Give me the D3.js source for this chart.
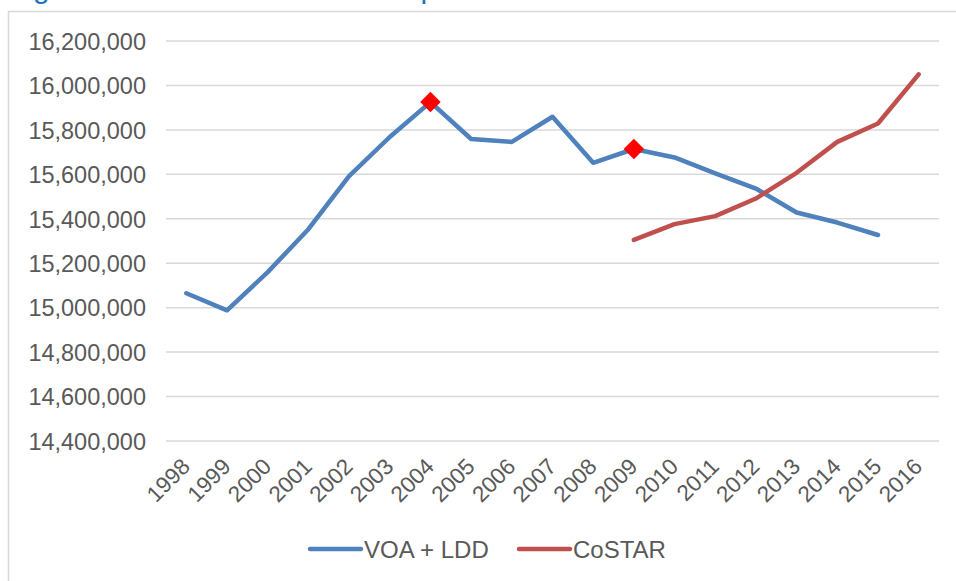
<!DOCTYPE html>
<html>
<head>
<meta charset="utf-8">
<script src="https://cdn.jsdelivr.net/npm/d3@7"></script>
<style>
  html, body { margin: 0; padding: 0; background: #fff; }
  svg { display: block; font-family: "Liberation Sans", Arial, sans-serif; }
</style>
</head>
<body>
<svg id="chart" width="956" height="581"></svg>
<script>
// Office floorspace estimates by source (sq m)
const years = ["1998","1999","2000","2001","2002","2003","2004","2005","2006",
               "2007","2008","2009","2010","2011","2012","2013","2014","2015","2016"];
const voaLdd = [15065000, 14988000, 15160000, 15353000, 15592000, 15768000, 15925000,
                15759000, 15746000, 15859000, 15652000, 15714000, 15676000, 15604000,
                15536000, 15428000, 15383000, 15327000, null];
const costar = [null, null, null, null, null, null, null, null, null, null, null,
                15305000, 15376000, 15412000, 15491000, 15607000, 15746000, 15829000, 16050000];
const highlightYears = ["2004", "2009"];
const yTicks = [14400000, 14600000, 14800000, 15000000, 15200000, 15400000,
                15600000, 15800000, 16000000, 16200000];
const seriesNames = ["VOA + LDD", "CoSTAR"];
const seriesColors = ["#4F81BD", "#C0504D"];
const titleText = "Figure 5: Total office stock comparison";

const svg = d3.select("#chart");
const textColor = "#595959";
const gridColor = "#D9D9D9";

// Chart frame and the caption above it (only its lowest part falls inside the page)
svg.append("text")
  .attr("x", 8).attr("y", -2)
  .attr("font-size", 30)
  .attr("fill", "#1B75BC")
  .text(titleText);

svg.append("rect")
  .attr("x", 8.5).attr("y", 11.5)
  .attr("width", 1000).attr("height", 1000)
  .attr("fill", "none")
  .attr("stroke", gridColor)
  .attr("stroke-width", 1.5);

const x = d3.scaleBand().domain(years).range([166, 939]).padding(0);
const y = d3.scaleLinear().domain([14400000, 16200000]).range([441, 41]);
const cx = d => x(d) + x.bandwidth() / 2;

// Horizontal gridlines
svg.append("g")
  .selectAll("line")
  .data(yTicks)
  .join("line")
  .attr("x1", 166).attr("x2", 939)
  .attr("y1", d => y(d)).attr("y2", d => y(d))
  .attr("stroke", gridColor)
  .attr("stroke-width", 1.5);

// Value axis labels
const yAxis = svg.append("g")
  .attr("transform", "translate(146,0)")
  .call(d3.axisLeft(y).tickValues(yTicks).tickFormat(d3.format(",")).tickSize(0).tickPadding(0));
yAxis.select(".domain").remove();
yAxis.selectAll("text")
  .attr("font-size", 23.5)
  .attr("font-family", "Liberation Sans, Arial, sans-serif")
  .attr("fill", textColor)
  .attr("dy", "0.35em");

// Category axis labels, rotated
const xAxis = svg.append("g")
  .attr("transform", "translate(0,441)")
  .call(d3.axisBottom(x).tickSize(0).tickPadding(0));
xAxis.select(".domain").remove();
xAxis.selectAll("text")
  .attr("font-size", 22.5)
  .attr("font-family", "Liberation Sans, Arial, sans-serif")
  .attr("fill", textColor)
  .attr("text-anchor", "end")
  .attr("dy", 0)
  .attr("transform", "translate(5,27) rotate(-45)");

// Series lines
const line = d3.line()
  .defined(d => d.v != null)
  .x(d => cx(d.year))
  .y(d => y(d.v));

[voaLdd, costar].forEach((vals, i) => {
  const pts = years.map((yr, j) => ({ year: yr, v: vals[j] }));
  svg.append("path")
    .datum(pts)
    .attr("d", line)
    .attr("fill", "none")
    .attr("stroke", seriesColors[i])
    .attr("stroke-width", 4.5)
    .attr("stroke-linejoin", "round")
    .attr("stroke-linecap", "round");
});

// Highlighted points on the VOA + LDD series
svg.append("g")
  .selectAll("path")
  .data(highlightYears)
  .join("path")
  .attr("d", d3.symbol(d3.symbolSquare, 210))
  .attr("transform", d => `translate(${cx(d)},${y(voaLdd[years.indexOf(d)])}) rotate(45)`)
  .attr("fill", "#FF0000");

// Legend
const legendX = [308, 517];
seriesNames.forEach((name, i) => {
  const g = svg.append("g").attr("transform", `translate(${legendX[i]},549)`);
  g.append("line")
    .attr("x1", 2).attr("x2", 53)
    .attr("stroke", seriesColors[i])
    .attr("stroke-width", 4.5)
    .attr("stroke-linecap", "round");
  g.append("text")
    .attr("x", 56).attr("y", 8.5)
    .attr("font-size", 24)
    .attr("fill", textColor)
    .text(name);
});
</script>
</body>
</html>
